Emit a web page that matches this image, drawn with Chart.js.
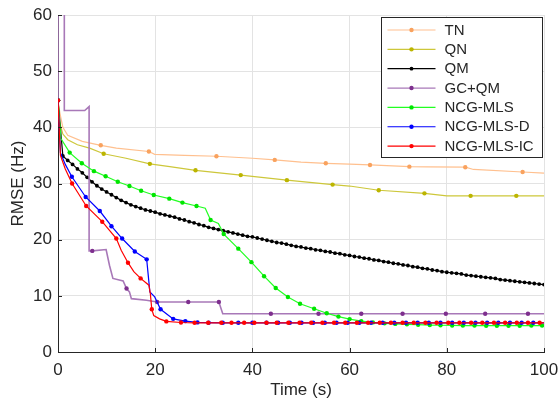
<!DOCTYPE html>
<html>
<head>
<meta charset="utf-8">
<script src="https://cdn.jsdelivr.net/npm/chart.js@4.4.0/dist/chart.umd.min.js"></script>
<style>
  html, body { margin: 0; padding: 0; background: #fff; }
</style>
</head>
<body>
<canvas id="chart" width="559" height="402"></canvas>
<script>
// time (s) / RMSE (Hz); points listed in *NoDot have no marker
const tnT = [0, 0.4, 1, 2, 5, 8.8, 12, 18.7, 19.9, 26, 32.6, 40, 44.6, 50, 55.1, 60, 64.2, 72.3, 76, 83.8, 85.5, 95.6, 100];
const tnV = [44.8, 42.5, 40.0, 38.6, 37.5, 36.8, 36.3, 35.7, 35.2, 35.0, 34.85, 34.5, 34.2, 33.8, 33.6, 33.45, 33.3, 33.0, 32.95, 32.9, 32.5, 32.05, 31.85];
const tnNoDot = [0.4, 1, 2, 5, 12, 19.9, 26, 40, 50, 60, 76, 85.5, 100];

const qnT = [0, 0.3, 1, 2, 4, 6.5, 9.4, 14, 18.9, 23, 28.3, 37.6, 47.1, 56.5, 60, 66, 75.4, 80, 84.9, 94.3, 100];
const qnV = [44.8, 41, 38.8, 37.8, 36.9, 36.3, 35.3, 34.5, 33.5, 33.0, 32.35, 31.5, 30.6, 29.8, 29.55, 28.8, 28.25, 27.8, 27.8, 27.8, 27.8];
const qnNoDot = [0.3, 1, 2, 4, 6.5, 14, 23, 60, 80, 100];

const qmT = [0, 1, 2, 3, 4, 5, 6, 7, 8, 9, 10, 11, 12, 13, 14, 15, 16, 17, 18, 19, 20,
  21, 22, 23, 24, 25, 26, 27, 28, 29, 30, 31, 32, 33, 34, 35, 36, 37, 38, 39, 40,
  41, 42, 43, 44, 45, 46, 47, 48, 49, 50, 51, 52, 53, 54, 55, 56, 57, 58, 59, 60,
  61, 62, 63, 64, 65, 66, 67, 68, 69, 70, 71, 72, 73, 74, 75, 76, 77, 78, 79, 80,
  81, 82, 83, 84, 85, 86, 87, 88, 89, 90, 91, 92, 93, 94, 95, 96, 97, 98, 99, 100];
const qmV = [44.8, 34.9, 34.1, 33.4, 32.6, 31.9, 31.1, 30.3, 29.6, 29.0, 28.5, 28.0, 27.5, 27.0, 26.6, 26.2, 25.9, 25.6, 25.3, 25.1, 24.9,
  24.6, 24.4, 24.2, 24.0, 23.7, 23.5, 23.2, 23.0, 22.7, 22.5, 22.2, 22.0, 21.8, 21.6, 21.4, 21.2, 21.0, 20.8, 20.6, 20.5,
  20.3, 20.1, 19.9, 19.7, 19.5, 19.4, 19.2, 19.0, 18.8, 18.7, 18.5, 18.4, 18.2, 18.1, 17.9, 17.8, 17.6, 17.5, 17.3, 17.2,
  17.0, 16.9, 16.7, 16.6, 16.4, 16.3, 16.1, 16.0, 15.8, 15.7, 15.5, 15.4, 15.2, 15.1, 14.9, 14.8, 14.6, 14.5, 14.3, 14.2,
  14.1, 14.0, 13.9, 13.7, 13.6, 13.5, 13.4, 13.3, 13.2, 13.1, 12.9, 12.8, 12.7, 12.6, 12.5, 12.4, 12.3, 12.2, 12.1, 12.0];
const qmNoDot = [];

const gcT = [0, 0, 1.3, 1.3, 5.5, 6.4, 6.4, 7.05, 9.9, 10.6, 11.3, 13.4, 14.1, 14.7, 15.1, 18.2, 20.4, 26.8, 33.1, 33.9, 43.8, 53.6, 62.4, 70.9, 79.8, 87.9, 96.7, 100];
const gcV = [44.8, 75, 75, 43.0, 43.0, 43.7, 18.0, 18.0, 18.25, 15.4, 13.1, 12.65, 11.3, 10.7, 9.5, 9.2, 8.9, 8.9, 8.9, 6.8, 6.8, 6.8, 6.8, 6.8, 6.8, 6.8, 6.8, 6.8];
const gcNoDot = [0, 1.3, 5.5, 6.4, 9.9, 10.6, 11.3, 13.4, 14.7, 15.1, 18.2, 33.9, 100];

const mlsT = [0, 0.6, 2.4, 4.9, 7.4, 9.8, 12.3, 14.7, 17.1, 19.7, 22.9, 25.6, 28.5, 30.3, 31.4, 33, 34.1, 37.1, 39.8, 42.4,
  44.8, 47.3, 49.8, 52.7, 55.3, 57.7, 60, 62.4, 64.8, 67.2, 69.4, 71.8, 74.1, 76.5, 78.7, 81.1, 83.3, 85.7, 88.1, 90.3,
  92.7, 95.0, 97.4, 99.6, 100];
const mlsV = [44.8, 38.0, 35.5, 33.6, 32.2, 31.3, 30.3, 29.55, 28.7, 27.95, 27.3, 26.6, 26.0, 25.6, 23.5, 22.9, 21.0, 18.4, 16.0, 13.5,
  11.4, 9.8, 8.6, 7.7, 6.9, 6.3, 5.86, 5.5, 5.27, 5.1, 5.0, 4.92, 4.86, 4.8, 4.76, 4.73, 4.7, 4.7, 4.68, 4.68,
  4.68, 4.68, 4.7, 4.7, 4.7];
const mlsNoDot = [0.6, 30.3, 33, 100];

const mlsDT = [0, 0.5, 1.5, 2.85, 5.7, 8.6, 11, 13.2, 15.8, 18.25, 18.9, 19.9, 21.1, 23.7, 26.2, 28.7, 31.0, 33.9, 37.1, 40.0,
  42.9, 45.3, 47.7, 50.1, 52.5, 54.9, 57.3, 59.6, 62.0, 64.4, 66.8, 69.2, 71.6, 74.0, 76.3, 78.7, 81.1, 83.5, 85.9, 88.3,
  90.6, 93.0, 95.4, 97.8, 100];
const mlsDV = [44.8, 35.5, 33.4, 31.2, 27.6, 25.1, 22.4, 20.2, 17.9, 16.5, 10.7, 9.8, 7.6, 5.9, 5.5, 5.27, 5.22, 5.2, 5.2, 5.2,
  5.2, 5.2, 5.2, 5.2, 5.2, 5.2, 5.2, 5.2, 5.2, 5.2, 5.2, 5.2, 5.2, 5.2, 5.2, 5.2, 5.2, 5.2, 5.2, 5.2,
  5.2, 5.2, 5.2, 5.2, 5.2];
const mlsDNoDot = [0.5, 1.5, 18.9, 19.9, 100];

const mlsIcT = [0, 0.5, 1.5, 2.9, 5.8, 9.1, 12, 13, 14.4, 15.6, 17, 18.7, 19, 19.3, 19.7, 20.9, 22.3, 25.3, 28.1, 30.9,
  33.6, 35.7, 38.3, 40.4, 42.9, 45.0, 47.4, 49.7, 52.1, 54.4, 56.8, 59.1, 61.5, 63.8, 66.2, 68.5, 70.9, 73.2, 75.6, 77.9,
  80.3, 82.6, 85.0, 87.3, 89.7, 92.0, 94.4, 96.7, 99.1, 100];
const mlsIcV = [44.8, 35.0, 32.6, 30.0, 26.0, 23.2, 20.2, 18.1, 15.9, 14.3, 13.1, 11.9, 10.4, 7.6, 6.5, 5.9, 5.45, 5.25, 5.2, 5.2,
  5.2, 5.2, 5.2, 5.2, 5.2, 5.2, 5.2, 5.2, 5.2, 5.2, 5.2, 5.2, 5.2, 5.2, 5.2, 5.2, 5.2, 5.2, 5.2, 5.2,
  5.2, 5.2, 5.2, 5.2, 5.2, 5.2, 5.2, 5.2, 5.2, 5.2];
const mlsIcNoDot = [0.5, 1.5, 13, 15.6, 18.7, 19, 19.7, 20.9, 100];

const xTicks = [0, 20, 40, 60, 80, 100];
const yTicks = [0, 10, 20, 30, 40, 50, 60];

const AXIS = '#262626';
const FONT = '"Liberation Sans", Arial, Helvetica, sans-serif';

function series(label, t, v, noDot, line, dot, r, w, order) {
  return {
    label: label,
    data: t.map((x, i) => ({x: x, y: v[i]})),
    borderColor: line,
    borderWidth: w,
    backgroundColor: dot,
    pointBackgroundColor: dot,
    pointBorderWidth: 0,
    pointRadius: (ctx) => noDot.includes(t[ctx.dataIndex]) ? 0 : r,
    pointHoverRadius: 0,
    tension: 0,
    order: order,
    dotColor: dot,
    dotRadius: r
  };
}

const datasets = [
  series('TN', tnT, tnV, tnNoDot, '#ffc08f', '#f9a25e', 2.2, 1.2, 7),
  series('QN', qnT, qnV, qnNoDot, '#cdc73a', '#bcb500', 2.2, 1.2, 6),
  series('QM', qmT, qmV, qmNoDot, '#000000', '#000000', 1.9, 1.2, 5),
  series('GC+QM', gcT, gcV, gcNoDot, '#a878b8', '#7e2f8e', 2.2, 1.6, 4),
  series('NCG-MLS', mlsT, mlsV, mlsNoDot, '#22ff22', '#00e600', 2.2, 1.2, 3),
  series('NCG-MLS-D', mlsDT, mlsDV, mlsDNoDot, '#0000ff', '#0000ff', 2.2, 1.2, 2),
  series('NCG-MLS-IC', mlsIcT, mlsIcV, mlsIcNoDot, '#ff0000', '#ff0000', 2.2, 1.2, 1)
];

// ticks pointing into the plot, as in the original
const innerTicks = {
  id: 'innerTicks',
  afterDatasetsDraw(chart) {
    const {ctx, chartArea: a, scales: {x, y}} = chart;
    ctx.save();
    ctx.strokeStyle = AXIS;
    ctx.lineWidth = 1;
    ctx.beginPath();
    xTicks.forEach(v => {
      const px = Math.round(x.getPixelForValue(v)) + 0.5;
      ctx.moveTo(px, a.bottom); ctx.lineTo(px, a.bottom - 4);
    });
    yTicks.forEach(v => {
      const py = Math.round(y.getPixelForValue(v)) + 0.5;
      ctx.moveTo(a.left, py); ctx.lineTo(a.left + 4, py);
    });
    ctx.stroke();
    ctx.restore();
  }
};

// boxed legend in the upper right, line with a dot for each series
const boxLegend = {
  id: 'boxLegend',
  afterDraw(chart) {
    const ctx = chart.ctx;
    const left = 381.5, top = 17.5, w = 161, h = 140, row = 19.35;
    ctx.save();
    ctx.fillStyle = '#fff';
    ctx.fillRect(left, top, w, h);
    ctx.strokeStyle = AXIS;
    ctx.lineWidth = 1;
    ctx.strokeRect(left, top, w, h);
    ctx.font = '15px ' + FONT;
    ctx.textBaseline = 'middle';
    chart.data.datasets.forEach((ds, i) => {
      const yy = top + 12.5 + i * row;
      ctx.strokeStyle = ds.borderColor;
      ctx.lineWidth = 1.2;
      ctx.beginPath();
      ctx.moveTo(left + 6, yy); ctx.lineTo(left + 54, yy);
      ctx.stroke();
      ctx.fillStyle = ds.dotColor;
      ctx.beginPath();
      ctx.arc(left + 30, yy, ds.dotRadius, 0, Math.PI * 2);
      ctx.fill();
      ctx.fillStyle = AXIS;
      ctx.fillText(ds.label, left + 63, yy + 0.5);
    });
    ctx.restore();
  }
};

new Chart(document.getElementById('chart'), {
  type: 'line',
  data: {datasets: datasets},
  options: {
    responsive: false,
    animation: false,
    devicePixelRatio: 1,
    layout: {padding: {left: 0, top: 15, right: 15, bottom: 0}},
    plugins: {legend: {display: false}, tooltip: {enabled: false}},
    scales: {
      x: {
        type: 'linear',
        min: 0, max: 100,
        afterFit: (s) => { s.height = 50; s.paddingLeft = 0; s.paddingRight = 0; },
        afterBuildTicks: (s) => { s.ticks = xTicks.map(v => ({value: v})); },
        grid: {color: '#e3e3e3', drawTicks: false},
        border: {color: AXIS, width: 1},
        ticks: {color: AXIS, font: {family: FONT, size: 17}, padding: 8, maxRotation: 0},
        title: {display: true, text: 'Time (s)', color: AXIS, font: {family: FONT, size: 17}, padding: {top: 2, bottom: 1}}
      },
      y: {
        min: 0, max: 60,
        afterFit: (s) => { s.width = 58; s.paddingTop = 0; s.paddingBottom = 0; },
        afterBuildTicks: (s) => { s.ticks = yTicks.map(v => ({value: v})); },
        grid: {color: '#e3e3e3', drawTicks: false},
        border: {color: AXIS, width: 1},
        ticks: {color: AXIS, font: {family: FONT, size: 17}, padding: 6},
        title: {display: true, text: 'RMSE (Hz)', color: AXIS, font: {family: FONT, size: 17}, padding: {top: 8, bottom: 0}}
      }
    }
  },
  plugins: [innerTicks, boxLegend]
});
</script>
</body>
</html>
